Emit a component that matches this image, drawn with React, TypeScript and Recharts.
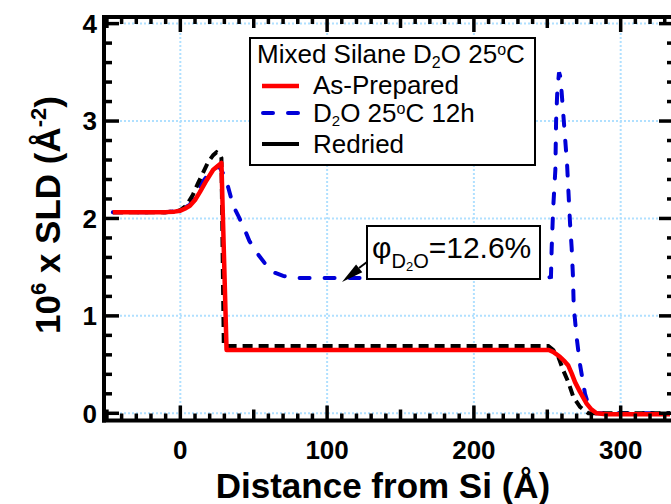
/* ── SLD profiles: Mixed Silane D2O 25ºC ── */

import { LineChart, Line, XAxis, YAxis, CartesianGrid } from "recharts";

const FONT = '"Liberation Sans", Arial, Helvetica, sans-serif';

// [distance from Si (Å), 10^6 x SLD (Å^-2)]
const asPrepared: [number, number][] = [
  [-46, 2.065], [-10, 2.065], [-4, 2.07], [0, 2.08], [3, 2.1], [6.5, 2.13], [10, 2.19],
  [13.3, 2.27], [17.8, 2.39], [22.4, 2.5], [28, 2.57], [31.5, 0.65], [120, 0.65], [251, 0.65],
  [254, 0.63], [258.6, 0.58], [262, 0.53], [264.3, 0.49], [266.6, 0.41], [268.9, 0.32],
  [272.3, 0.22], [276.8, 0.1], [280, 0.04], [283.6, 0.0], [290, -0.01], [334, -0.01],
];

const d2o12h: [number, number][] = [
  [-46, 2.065], [-10, 2.065], [0, 2.08], [6.5, 2.14], [14.4, 2.36], [20, 2.47], [25, 2.53],
  [27, 2.52], [30.3, 2.43], [32.6, 2.32], [36, 2.13], [39.4, 2.03], [44, 1.88], [47, 1.77],
  [52, 1.65], [58.6, 1.52], [63, 1.45], [70, 1.41], [77, 1.39], [250, 1.39], [252.5, 1.4],
  [253, 1.7], [254, 2.1], [255.5, 2.5], [256, 3.0], [256.8, 3.3], [258, 3.5], [259, 3.45],
  [260.5, 3.15], [262, 2.85], [263.5, 2.55], [264.5, 2.25], [265.5, 1.95], [266.6, 1.7],
  [267.5, 1.4], [268, 1.1], [270, 0.78], [272.3, 0.5], [275.7, 0.2], [279, 0.04], [283, 0.0],
  [334, 0.0],
];

const redried: [number, number][] = [
  [-46, 2.065], [-10, 2.065], [-4, 2.07], [0, 2.085], [4, 2.13], [8.5, 2.24], [12, 2.36],
  [15.5, 2.47], [19, 2.58], [22.4, 2.65], [24.7, 2.68], [27, 2.66], [28, 2.62], [29.6, 0.69],
  [120, 0.69], [250.7, 0.69], [254, 0.65], [257.5, 0.58], [260.9, 0.44], [264.3, 0.32],
  [267.7, 0.17], [272.3, 0.065], [278, 0.0], [334, 0.0],
];

const xMajor = [0, 100, 200, 300];
const yMajor = [0, 1, 2, 3, 4];
const xTicks = Array.from({ length: 39 }, (_, i) => -50 + 10 * i);
const yTicks = Array.from({ length: 21 }, (_, i) => Math.round(i * 2) / 10);

const xDomain = [-52, 333.6];
const yDomain = [-0.074, 4.068];

const toRows = (pts: [number, number][]) => pts.map(([x, y]) => ({ x, y }));

function BottomTick({ x, y, payload }: any) {
  const v = Math.round(payload.value);
  const len = v % 100 === 0 ? 15 : v % 50 === 0 ? 11 : 7;
  return (
    <g>
      <line x1={x} x2={x} y1={y} y2={y - len} stroke="#000" strokeWidth={3.5} />
      {xMajor.includes(v) && (
        <text x={x} y={y + 38} textAnchor="middle" fontSize={26} fontWeight="bold" fontFamily={FONT} fill="#000">
          {v}
        </text>
      )}
    </g>
  );
}

function TopTick({ x, y, payload }: any) {
  const v = Math.round(payload.value);
  const len = v % 100 === 0 ? 15 : v % 50 === 0 ? 11 : 7;
  return <line x1={x} x2={x} y1={y} y2={y + len} stroke="#000" strokeWidth={3.5} />;
}

function LeftTick({ x, y, payload }: any) {
  const v = Math.round(payload.value * 10) / 10;
  const major = yMajor.includes(v);
  return (
    <g>
      <line x1={x} x2={x + (major ? 15 : 8)} y1={y} y2={y} stroke="#000" strokeWidth={3.5} />
      {major && (
        <text x={x - 7} y={y} dy="0.36em" textAnchor="end" fontSize={26} fontWeight="bold" fontFamily={FONT} fill="#000">
          {v}
        </text>
      )}
    </g>
  );
}

function RightTick({ x, y, payload }: any) {
  const v = Math.round(payload.value * 10) / 10;
  const len = yMajor.includes(v) ? 15 : 7;
  return <line x1={x + 4} x2={x + 4 - len} y1={y} y2={y} stroke="#000" strokeWidth={3.5} />;
}

export default function App() {
  const axisLine = { stroke: "#000", strokeWidth: 4, strokeLinecap: "square" as const };
  return (
    <div style={{ position: "relative", width: 671, height: 504, fontFamily: FONT, background: "#fff" }}>
      <style>{`body{margin:0}`}</style>
      <LineChart width={671} height={504} margin={{ top: 0, right: 0, bottom: 0, left: 0 }}>
        <CartesianGrid
          horizontalValues={yMajor}
          verticalValues={xMajor}
          stroke="#b0e0ff"
          strokeWidth={2}
          strokeDasharray="2 2"
        />
        <XAxis
          dataKey="x"
          type="number"
          domain={xDomain}
          allowDataOverflow
          ticks={xTicks}
          interval={0}
          tickSize={0}
          tickMargin={0}
          tickLine={false}
          axisLine={axisLine}
          tick={(p: any) => <BottomTick {...p} />}
          height={83.5}
        />
        <XAxis
          xAxisId="top"
          orientation="top"
          dataKey="x"
          type="number"
          domain={xDomain}
          allowDataOverflow
          ticks={xTicks}
          interval={0}
          tickSize={0}
          tickMargin={0}
          tickLine={false}
          axisLine={axisLine}
          tick={(p: any) => <TopTick {...p} />}
          height={17}
        />
        <YAxis
          type="number"
          domain={yDomain}
          allowDataOverflow
          ticks={yTicks}
          interval={0}
          tickSize={0}
          tickMargin={0}
          tickLine={false}
          axisLine={axisLine}
          tick={(p: any) => <LeftTick {...p} />}
          width={104}
        />
        <YAxis
          yAxisId="right"
          orientation="right"
          type="number"
          domain={yDomain}
          allowDataOverflow
          ticks={yTicks}
          interval={0}
          tickSize={0}
          tickMargin={0}
          tickLine={false}
          axisLine={false}
          tick={(p: any) => <RightTick {...p} />}
          width={1}
        />
        <Line
          data={toRows(d2o12h)}
          dataKey="y"
          type="linear"
          stroke="#0000d8"
          strokeWidth={4}
          strokeDasharray="10 15"
          strokeLinecap="round"
          dot={false}
          isAnimationActive={false}
        />
        <Line
          data={toRows(redried)}
          dataKey="y"
          type="linear"
          stroke="#000"
          strokeWidth={4}
          strokeDasharray="10 6"
          dot={false}
          isAnimationActive={false}
        />
        <Line
          data={toRows(asPrepared)}
          dataKey="y"
          type="linear"
          stroke="#ff0000"
          strokeWidth={4.5}
          strokeLinejoin="round"
          dot={false}
          isAnimationActive={false}
        />
      </LineChart>

      {/* titles, legend box and annotation drawn above the plot */}
      <svg width={671} height={504} style={{ position: "absolute", left: 0, top: 0, pointerEvents: "none" }} fontFamily={FONT}>
        <text x={383} y={498} textAnchor="middle" fontSize={35} fontWeight="bold" fill="#000">
          Distance from Si (Å)
        </text>
        <text transform="translate(60,215) rotate(-90)" textAnchor="middle" fontSize={35} fontWeight="bold" fill="#000">
          10<tspan dy={-14} fontSize={22}>6</tspan>
          <tspan dy={14}> x SLD (Å</tspan>
          <tspan dy={-14} fontSize={22}>-2</tspan>
          <tspan dy={14}>)</tspan>
        </text>

        <rect x={250} y={38} width={285} height={127} fill="#fff" stroke="#000" strokeWidth={2} />
        <text x={257} y={63} fontSize={26} fill="#000">
          Mixed Silane D<tspan dy={5} fontSize={16}>2</tspan>
          <tspan dy={-5}>O 25</tspan>
          <tspan dy={-8} fontSize={16}>o</tspan>
          <tspan dy={8}>C</tspan>
        </text>
        <line x1={262} x2={299} y1={86} y2={86} stroke="#ff0000" strokeWidth={4.5} />
        <line x1={263} x2={300} y1={113} y2={113} stroke="#0000d8" strokeWidth={4} strokeDasharray="10 15" strokeLinecap="round" />
        <line x1={262} x2={299} y1={144} y2={144} stroke="#000" strokeWidth={4} />
        <text x={313} y={94} fontSize={26} fill="#000">As-Prepared</text>
        <text x={313} y={122} fontSize={26} fill="#000">
          D<tspan dy={4} fontSize={15}>2</tspan>
          <tspan dy={-4}>O 25</tspan>
          <tspan dy={-8} fontSize={16}>o</tspan>
          <tspan dy={8}>C 12h</tspan>
        </text>
        <text x={313} y={153} fontSize={26} fill="#000">Redried</text>

        <rect x={367} y={226} width={173} height={53} fill="#fff" stroke="#000" strokeWidth={2} />
        <text x={372} y={258} fontSize={30} fill="#000">
          φ<tspan dy={10} fontSize={20}>D</tspan>
          <tspan dy={3} fontSize={13}>2</tspan>
          <tspan dy={-3} fontSize={20}>O</tspan>
          <tspan dy={-10} fontSize={30}>=12.6%</tspan>
        </text>
        <line x1={359} y1={268} x2={367} y2={262} stroke="#000" strokeWidth={2} />
        <polygon points="342,282 362.3,272.2 356.1,264.4" fill="#000" />
      </svg>
    </div>
  );
}
